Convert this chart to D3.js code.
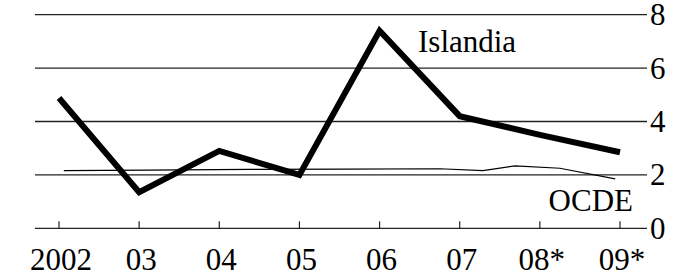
<!DOCTYPE html>
<html><head><meta charset="utf-8">
<script src="https://cdn.jsdelivr.net/npm/d3@7"></script>
</head>
<body style="margin:0;padding:0;background:#fff">
<div id="chart" style="font-family:'Liberation Serif','Times New Roman',Tinos,serif;line-height:0"></div>
<script>
const categories = ["2002","03","04","05","06","07","08*","09*"];
const islandia = [4.88, 1.35, 2.9, 2.0, 7.4, 4.2, 3.5, 2.85];
// OCDE: [position on category index axis, value]
const ocdeT = [0.06, 1.1, 2.38, 3.6, 4.75, 5.29, 5.69, 6.25, 6.94];
const ocdeV = [2.16, 2.18, 2.21, 2.22, 2.23, 2.16, 2.34, 2.25, 1.85];
const yTicks = [0, 2, 4, 6, 8];
const seriesLabels = ["Islandia", "OCDE"];

const W = 684, H = 277;
const FONT = "'Liberation Serif','Times New Roman',Tinos,serif";
if (document.fonts && document.fonts.load) { document.fonts.load("31px 'Liberation Serif'"); }

const svg = d3.select("#chart").append("svg").attr("width", W).attr("height", H)
  .style("display", "block");

const x = d3.scaleLinear().domain([0, categories.length - 1]).range([59, 620]);
const y = d3.scaleLinear().domain([0, 8]).range([228.3, 14.7]);
const gridX0 = 35, gridX1 = 647;

function txt(sel) {
  return sel.attr("font-family", "Liberation Serif").style("font-family", FONT)
    .attr("font-size", 31).attr("fill", "#000");
}

// gridlines
svg.append("g").selectAll("line").data(yTicks).join("line")
  .attr("x1", gridX0).attr("x2", gridX1)
  .attr("y1", d => y(d)).attr("y2", d => y(d))
  .attr("stroke", "#222").attr("stroke-width", 1.3);

// right labels
txt(svg.append("g").selectAll("text").data(yTicks).join("text"))
  .attr("x", 650).attr("y", d => y(d) + 10.5).text(d => d);

// x ticks (upward)
svg.append("g").selectAll("line").data(categories).join("line")
  .attr("x1", (d, i) => x(i)).attr("x2", (d, i) => x(i))
  .attr("y1", y(0)).attr("y2", y(0) - 7)
  .attr("stroke", "#222").attr("stroke-width", 1.2);

txt(svg.append("g").selectAll("text").data(categories).join("text"))
  .attr("x", (d, i) => x(i) + 2).attr("y", 270)
  .attr("text-anchor", "middle").text(d => d);

// OCDE line
const ocde = ocdeT.map((t, i) => [t, ocdeV[i]]);
svg.append("path").datum(ocde)
  .attr("fill", "none").attr("stroke", "#000").attr("stroke-width", 1.2)
  .attr("d", d3.line().x(d => x(d[0])).y(d => y(d[1])));

// Islandia line
svg.append("path").datum(islandia)
  .attr("fill", "none").attr("stroke", "#000").attr("stroke-width", 6)
  .attr("stroke-linejoin", "miter").attr("stroke-linecap", "butt")
  .attr("d", d3.line().x((d, i) => x(i)).y(d => y(d)));

// series labels
txt(svg.append("text")).attr("x", 418).attr("y", 52).text(seriesLabels[0]);
txt(svg.append("text")).attr("x", 633).attr("y", 211).attr("text-anchor", "end").text(seriesLabels[1]);
</script>
</body></html>
